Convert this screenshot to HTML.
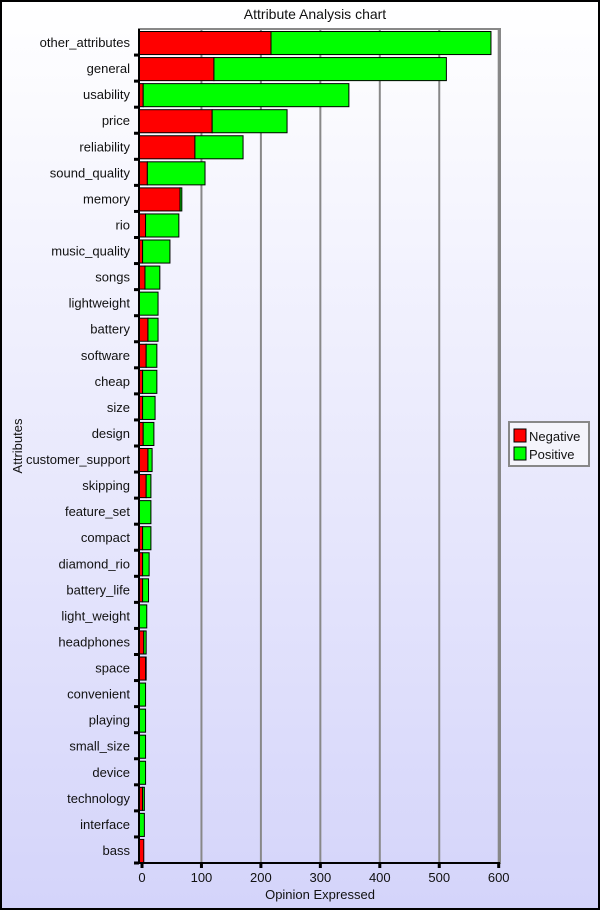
<!DOCTYPE html>
<html><head><meta charset="utf-8"><style>
html,body{margin:0;padding:0}
body{width:600px;height:910px;overflow:hidden}
svg text{font-family:"Liberation Sans",sans-serif;fill:#111}
</style></head><body>
<svg id="c" width="600" height="910" xmlns="http://www.w3.org/2000/svg">
<defs><linearGradient id="bg" x1="0" y1="0" x2="0" y2="1"><stop offset="0" stop-color="#ffffff"/><stop offset="1" stop-color="#d4d4fa"/></linearGradient></defs>
<rect x="1" y="1" width="598" height="908" fill="url(#bg)" stroke="#000" stroke-width="2"/>
<text x="315" y="19" font-size="14" text-anchor="middle">Attribute Analysis chart</text>
<g id="grid"></g><g id="bars"></g><g id="axes"></g>
<text x="320" y="899" font-size="13" text-anchor="middle">Opinion Expressed</text>
<text x="22" y="446" font-size="13" text-anchor="middle" transform="rotate(-90 22 446)">Attributes</text>
<g>
<rect x="509" y="422" width="80" height="44" fill="#f4f4fb" stroke="#888" stroke-width="2"/>
<g><rect x="514" y="429" width="12" height="13" fill="#f00" stroke="#000"/><text x="529" y="441" font-size="13">Negative</text></g>
<g><rect x="514" y="447" width="12" height="13" fill="#0f0" stroke="#000"/><text x="529" y="459" font-size="13">Positive</text></g>
</g>
</svg>
<script>
const categories=["other_attributes","general","usability","price","reliability","sound_quality","memory","rio","music_quality","songs","lightweight","battery","software","cheap","size","design","customer_support","skipping","feature_set","compact","diamond_rio","battery_life","light_weight","headphones","space","convenient","playing","small_size","device","technology","interface","bass"];
const negative=[217,121,2,118,89,9,64,6,1,5,0,10,7,1,1,2,10,7,0,1,1,1,0,3,6,0,0,0,0,1,0,3];
const positive=[370,391,346,126,81,97,3,56,46,25,27,17,18,24,21,18,7,8,15,14,11,10,8,4,1,6,6,6,6,3,4,0];
const xTicks=[0,100,200,300,400,500,600];
const NS="http://www.w3.org/2000/svg";
const X0=142,SC=0.5945,TOP=29,BOT=863,LEFT=139,RIGHT=500;
const rowH=(BOT-TOP)/categories.length;
const xs=v=>X0+v*SC;
function mk(t,a,p){const e=document.createElementNS(NS,t);for(const k in a)e.setAttribute(k,a[k]);p.appendChild(e);return e;}
const grid=document.getElementById('grid'),bars=document.getElementById('bars'),axes=document.getElementById('axes');
const pb=mk('rect',{x:LEFT,y:TOP,width:RIGHT-LEFT,height:BOT-TOP,fill:'none',stroke:'#888','stroke-width':2},grid);


xTicks.forEach(t=>{
 if(t>0){const g=mk('line',{x1:xs(t),x2:xs(t),y1:TOP,y2:BOT,stroke:'#888','stroke-width':2},grid);
 
 }
 const tk=mk('line',{x1:xs(t),x2:xs(t),y1:BOT,y2:BOT+5,stroke:'#000','stroke-width':3},axes);
 
 
 const tl=mk('text',{x:xs(t),y:BOT+19,'font-size':13,'text-anchor':'middle'},axes);tl.textContent=t;
 
 
});
categories.forEach((c,i)=>{
 const y=TOP+i*rowH+2.5,h=rowH-3;
 const n=negative[i],p=positive[i];
 const negEnd=n>0?xs(n):LEFT;
 if(n>0){const r=mk('rect',{x:LEFT,y:y,width:negEnd-LEFT,height:h,fill:'#f00',stroke:'#000','stroke-width':1},bars);
 
 }
 if(p>0){const g=mk('rect',{x:negEnd,y:y,width:xs(n+p)-negEnd,height:h,fill:'#0f0',stroke:'#000','stroke-width':1},bars);
 
 }
 const l=mk('text',{x:130,y:TOP+i*rowH+rowH/2+5,'font-size':13,'text-anchor':'end'},axes);l.textContent=c;
 
 
 const tk=mk('line',{x1:LEFT-5,x2:LEFT,y1:TOP+(i+1)*rowH,y2:TOP+(i+1)*rowH,stroke:'#000','stroke-width':3},axes);
 
 
});
const ya=mk('line',{x1:LEFT,x2:LEFT,y1:TOP,y2:BOT,stroke:'#000','stroke-width':2},axes);


const xa=mk('line',{x1:LEFT,x2:RIGHT,y1:BOT,y2:BOT,stroke:'#000','stroke-width':2},axes);


</script>
</body></html>
